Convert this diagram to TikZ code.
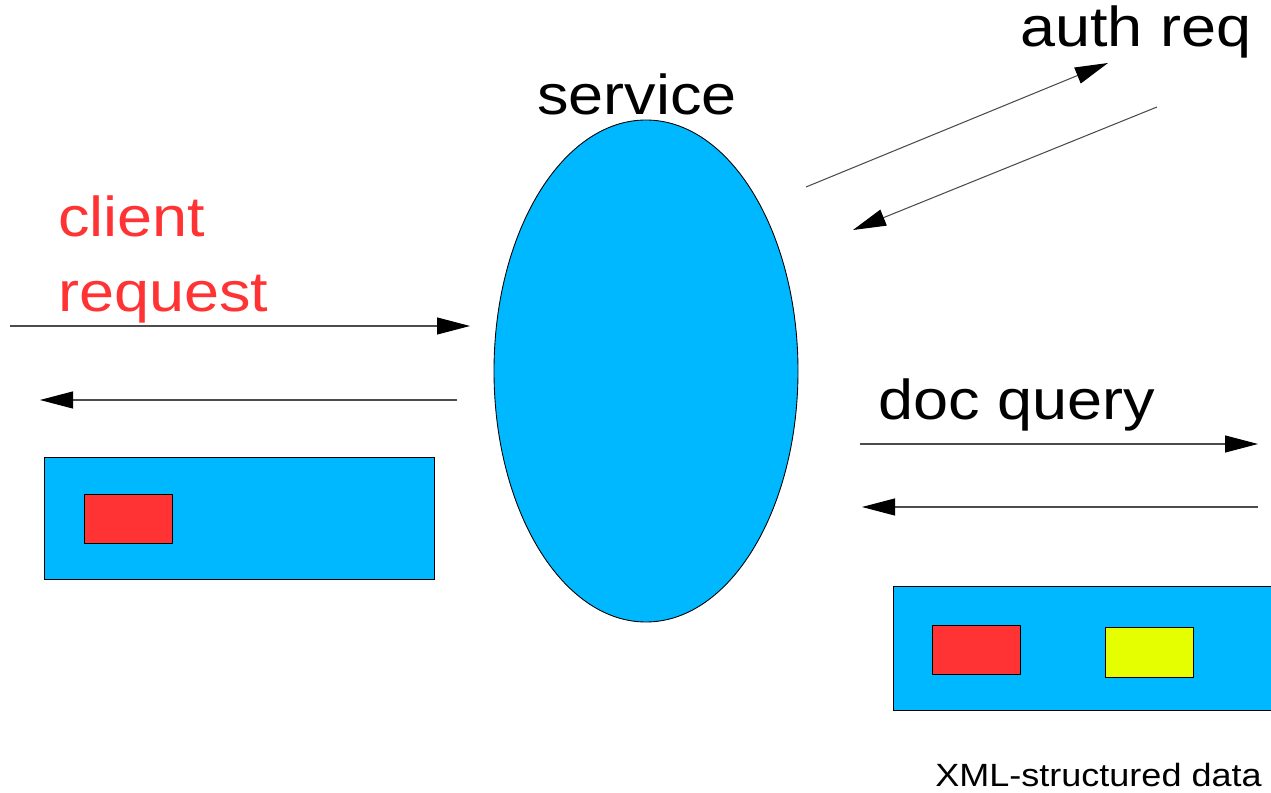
\documentclass[tikz,border=0pt]{standalone}
\usepackage{fontspec}
\setmainfont[FakeStretch=1.12]{Liberation Sans}
\usepackage{tikz}
\usetikzlibrary{arrows.meta,shapes.geometric}
\definecolor{skyblue}{RGB}{0,184,255}
\definecolor{boxred}{RGB}{255,51,51}
\definecolor{boxyellow}{RGB}{230,255,0}

\begin{document}
\begin{tikzpicture}[
  msg/.style={-{Triangle[length=6.6mm,width=3.4mm,color=black]}, line width=0.6pt, black!70},
  part/.style={draw=black, line width=0.5pt, inner sep=0pt},
  big/.style={font=\fontsize{32}{38}\selectfont, inner sep=0pt, anchor=base west}
]
\useasboundingbox (0,0) rectangle (25.42,15.84);

% the service
\node[ellipse, part, fill=skyblue, minimum width=6.08cm, minimum height=10.04cm] (service) at (12.92,8.42) {};
\node[big] (servicelbl) at (10.74,13.54) {service};

% client side
\node[big, text=boxred] (client) at (1.16,11.1) {client};
\node[big, text=boxred] (request) at (1.16,9.6) {request};
\coordinate (cinA) at (0.2,9.32);
\coordinate (cinB) at (9.4,9.32);
\coordinate (coutA) at (9.14,7.84);
\coordinate (coutB) at (0.8,7.84);
\draw[msg] (cinA) -- (cinB);
\draw[msg] (coutA) -- (coutB);
\node[part, fill=skyblue, minimum width=7.8cm, minimum height=2.44cm] (cbox) at (4.78,5.48) {};
\node[part, fill=boxred, minimum width=1.76cm, minimum height=0.98cm] (cred) at (2.56,5.47) {};

% auth
\node[big] (auth) at (20.4,14.9) {auth req};
\coordinate (aoutA) at (16.12,12.1);
\coordinate (aoutB) at (22.16,14.58);
\coordinate (ainA) at (23.14,13.7);
\coordinate (ainB) at (17.06,11.24);
\draw[msg] (aoutA) -- (aoutB);
\draw[msg] (ainA) -- (ainB);

% doc query
\node[big] (doc) at (17.56,7.44) {doc query};
\coordinate (doutA) at (17.2,6.96);
\coordinate (doutB) at (25.16,6.96);
\coordinate (dinA) at (25.16,5.7);
\coordinate (dinB) at (17.24,5.7);
\draw[msg] (doutA) -- (doutB);
\draw[msg] (dinA) -- (dinB);
\node[part, fill=skyblue, minimum width=7.74cm, minimum height=2.48cm] (dbox) at (21.73,2.88) {};
\node[part, fill=boxred, minimum width=1.76cm, minimum height=0.98cm] (dred) at (19.52,2.85) {};
\node[part, fill=boxyellow, minimum width=1.76cm, minimum height=1.0cm] (dyellow) at (22.98,2.8) {};
\node[font=\fontsize{18.3}{22}\selectfont, inner sep=0pt, anchor=base west] (xml) at (18.7,0.12) {XML-structured data};
\end{tikzpicture}
\end{document}
